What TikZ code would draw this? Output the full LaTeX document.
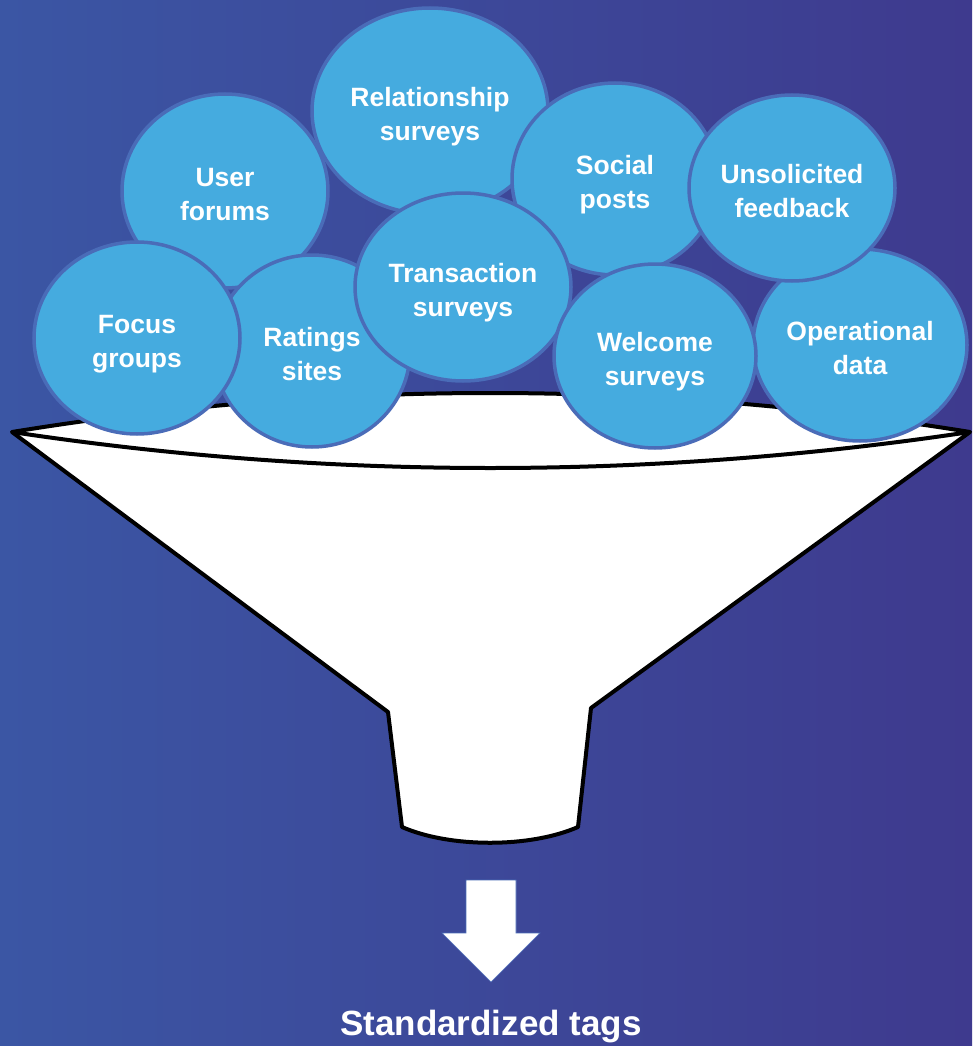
\documentclass[tikz,border=0pt]{standalone}
\usepackage{fontspec}
\setmainfont{Liberation Sans}
\usetikzlibrary{shapes.geometric}
\definecolor{bgleft}{HTML}{3B56A4}
\definecolor{bgright}{HTML}{3E3A8E}
\definecolor{bubblefill}{HTML}{45ABDF}
\definecolor{bubbleedge}{HTML}{4A6CB8}

\begin{document}
\begin{tikzpicture}[x=1pt, y=-1pt,
  bubble/.style={ellipse, fill=bubblefill, draw=bubbleedge, line width=3.5pt, inner sep=0pt,
    text height=64pt, text depth=6pt,
    text=white, align=center, font=\fontsize{26.5}{34}\selectfont\bfseries},
  funnel/.style={fill=white, draw=black, line width=4pt, line join=round}]
\useasboundingbox (0,0) rectangle (972,1046);
\shade[left color=bgleft, right color=bgright] (0,0) rectangle (972,1046);
% funnel body and rim
\draw[funnel] (12,432) .. controls (330,380) and (650,380) .. (970,432)
  -- (591,708) -- (578,827) .. controls (530,848) and (450,848) .. (402,827)
  -- (388,712) -- cycle;
\draw[funnel, fill=none] (12,432) .. controls (330,480) and (650,480) .. (970,432);
% sources, back to front
\node[bubble, minimum width=236pt, minimum height=206pt] (A) at (430,111) {Relationship\\surveys};
\node[bubble, minimum width=206pt, minimum height=194pt] (B) at (225,191) {User\\forums};
\node[bubble, minimum width=206pt, minimum height=192pt] (C) at (615,179) {Social\\posts};
\node[bubble, minimum width=214pt, minimum height=192pt] (I) at (860,345) {Operational\\data};
\node[bubble, minimum width=206pt, minimum height=186pt] (D) at (792,188) {Unsolicited\\feedback};
\node[bubble, minimum width=196pt, minimum height=192pt] (F) at (312,351) {Ratings\\sites};
\node[bubble, minimum width=206pt, minimum height=192pt] (E) at (137,338) {Focus\\groups};
\node[bubble, minimum width=216pt, minimum height=188pt] (G) at (463,287) {Transaction\\surveys};
\node[bubble, minimum width=202pt, minimum height=184pt] (H) at (655,356) {Welcome\\surveys};
% output
\draw[fill=white, draw=bubbleedge, line width=0.6pt] (466,880) -- (516,880) -- (516,933) -- (540,933)
  -- (491,982) -- (442,933) -- (466,933) -- cycle;
\node[anchor=base, text=white, font=\fontsize{35}{40}\selectfont\bfseries] (tags) at (491,1035) {Standardized tags};
\end{tikzpicture}
\end{document}
